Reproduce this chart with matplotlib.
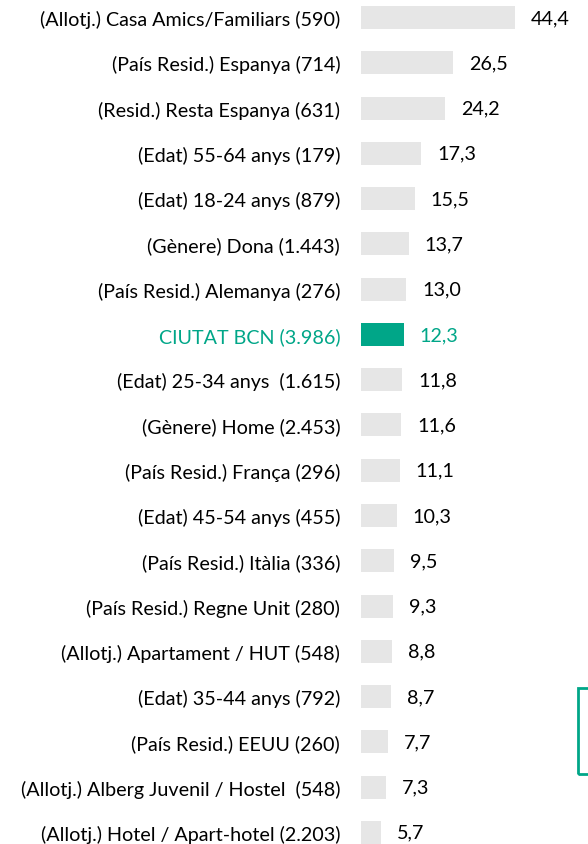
import matplotlib
matplotlib.use("Agg")
import matplotlib.pyplot as plt
from matplotlib.patches import Rectangle
import matplotlib.transforms as mtransforms

categories = [
    "(Allotj.) Casa Amics/Familiars (590)",
    "(País Resid.) Espanya (714)",
    "(Resid.) Resta Espanya (631)",
    "(Edat) 55-64 anys (179)",
    "(Edat) 18-24 anys (879)",
    "(Gènere) Dona (1.443)",
    "(País Resid.) Alemanya (276)",
    "CIUTAT BCN (3.986)",
    "(Edat) 25-34 anys  (1.615)",
    "(Gènere) Home (2.453)",
    "(País Resid.) França (296)",
    "(Edat) 45-54 anys (455)",
    "(País Resid.) Itàlia (336)",
    "(País Resid.) Regne Unit (280)",
    "(Allotj.) Apartament / HUT (548)",
    "(Edat) 35-44 anys (792)",
    "(País Resid.) EEUU (260)",
    "(Allotj.) Alberg Juvenil / Hostel  (548)",
    "(Allotj.) Hotel / Apart-hotel (2.203)",
]
values = [44.4, 26.5, 24.2, 17.3, 15.5, 13.7, 13.0, 12.3, 11.8, 11.6, 11.1,
          10.3, 9.5, 9.3, 8.8, 8.7, 7.7, 7.3, 5.7]
highlight = "CIUTAT BCN (3.986)"

GREEN = "#00A688"
GRAY = "#E6E6E6"
W, H, DPI = 588, 845, 100

plt.rcParams["font.family"] = ["Lato", "DejaVu Sans"]
fig = plt.figure(figsize=(W / DPI, H / DPI), dpi=DPI)
x0 = 361
scale = 3.47
ax = fig.add_axes([x0 / W, 0, 1 - x0 / W, 1])
y = list(range(len(categories)))
colors = [GREEN if c == highlight else GRAY for c in categories]
ax.barh(y, values, height=0.508, color=colors)
ax.set_xlim(0, (W - x0) / scale)
row0, step = 18.5, 45.27
ax.set_ylim((H - row0) / step, -row0 / step)

FS = 14.2
ax.set_yticks(y)
ax.set_yticklabels(categories, fontsize=FS)
ax.tick_params(axis="y", length=0, pad=15)
ax.set_xticks([])
for s in ax.spines.values():
    s.set_visible(False)
for lbl, c in zip(ax.get_yticklabels(), categories):
    if c == highlight:
        lbl.set_color(GREEN)

off = mtransforms.offset_copy(ax.transData, fig=fig, x=16 * 72 / DPI, y=0, units="points")
for i, (v, c) in enumerate(zip(values, categories)):
    ax.text(v, i, f"{v:.1f}".replace(".", ","), transform=off, va="center", ha="left",
            fontsize=FS, color=GREEN if c == highlight else "black")

fig.patches.append(Rectangle((578 / W, 1 - 775 / H), 30 / W, 86 / H,
                             transform=fig.transFigure, fill=False,
                             edgecolor=GREEN, linewidth=2))

fig.savefig("out.png", dpi=DPI)
